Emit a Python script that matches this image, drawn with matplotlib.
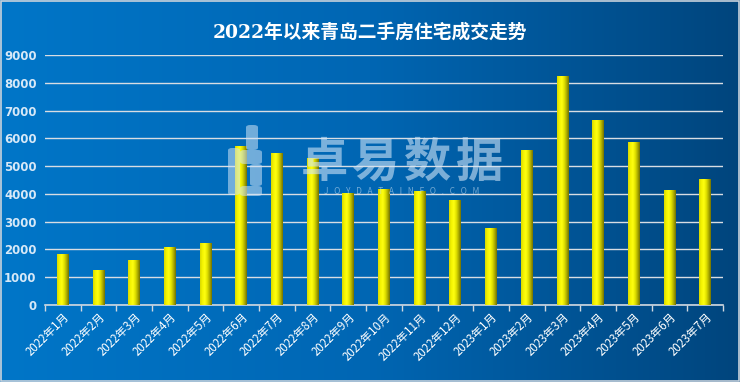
import numpy as np
import matplotlib.pyplot as plt
from matplotlib.colors import LinearSegmentedColormap
from matplotlib.patches import FancyBboxPatch

plt.rcParams['font.family'] = ['Noto Sans CJK SC', 'DejaVu Sans']

months = ["2022年1月", "2022年2月", "2022年3月", "2022年4月", "2022年5月", "2022年6月",
          "2022年7月", "2022年8月", "2022年9月", "2022年10月", "2022年11月", "2022年12月",
          "2023年1月", "2023年2月", "2023年3月", "2023年4月", "2023年5月", "2023年6月",
          "2023年7月"]
deals = [1830, 1240, 1610, 2070, 2200, 5700, 5460, 5280, 4020, 4170, 4080, 3780,
         2770, 5580, 8240, 6660, 5860, 4140, 4520]
yticks = [0, 1000, 2000, 3000, 4000, 5000, 6000, 7000, 8000, 9000]

W, H = 740, 382
fig = plt.figure(figsize=(7.4, 3.82), dpi=100)

# gradient background
bg = fig.add_axes([0, 0, 1, 1], zorder=0)
bg_cmap = LinearSegmentedColormap.from_list("bg", ["#0076c8", "#0066b3", "#00457d"])
bg.imshow(np.linspace(0, 1, 256).reshape(1, -1), aspect="auto", cmap=bg_cmap,
          extent=[0, 1, 0, 1])
bg.set_xlim(0, 1)
bg.set_ylim(0, 1)
bg.axis("off")
fig.patches.append(plt.Rectangle((0.001, 0.002), 0.997, 0.995, transform=fig.transFigure,
                                 fill=False, edgecolor="#c8d2dc", lw=1.2))

ax = fig.add_axes([45 / W, 77 / H, 678 / W, 250 / H], zorder=2)
ax.patch.set_alpha(0)

bar_cmap = LinearSegmentedColormap.from_list(
    "bar", ["#d8d800", "#f4f400", "#ffff10", "#e4e400", "#b0b000", "#727200"])
grad = np.linspace(0, 1, 64).reshape(1, -1)
x = np.arange(len(months))
w = 0.33
for xi, v in zip(x, deals):
    ax.imshow(grad, cmap=bar_cmap, aspect="auto", extent=[xi - w / 2, xi + w / 2, 0, v],
              zorder=3)

ax.set_xlim(-0.5, len(months) - 0.5)
ax.set_ylim(0, 9000)
ax.set_yticks(yticks)
ax.set_yticklabels([str(t) for t in yticks], color="#d6e8f7", fontsize=8.5,
                   fontweight="bold", family=["DejaVu Sans"])
ax.grid(axis="y", color="#d8dde3", lw=1.0, zorder=1)
ax.set_axisbelow(True)

ax.set_xticks(x)
ax.set_xticklabels(months, rotation=45, ha="right", rotation_mode="anchor",
                   color="white", fontsize=8.3)
ax.set_xticks(np.arange(len(months) + 1) - 0.5, minor=True)
ax.tick_params(axis="x", which="major", length=0, pad=4)
ax.tick_params(axis="x", which="minor", length=4, color="#d0d8e0", width=1)
ax.tick_params(axis="y", length=0, pad=6)

for s in ["top", "right", "left"]:
    ax.spines[s].set_visible(False)
ax.spines["bottom"].set_color("#d0d8e0")
ax.spines["bottom"].set_linewidth(1.2)

# watermark, drawn over the bars
wm = "#cfe4f7"
for i, ch in enumerate("卓易数据"):
    fig.text((324 + i * 52) / W, 1 - 163 / H, ch, color=wm, alpha=0.6, fontsize=34,
             fontweight="black", ha="center", va="center", zorder=5)
fig.text(402 / W, 1 - 191 / H, "J   O   Y   D   A   T   A   I   N   F   O   .   C   O   M",
         color=wm, alpha=0.55, fontsize=6, ha="center", va="center", zorder=5)
for (x0, y0, bw, bh) in [(228, 148, 12, 47), (240, 186, 22, 10), (246, 125, 12, 25),
                         (240, 150, 22, 14), (250, 164, 12, 22)]:
    fig.patches.append(FancyBboxPatch((x0 / W, 1 - (y0 + bh) / H), bw / W, bh / H,
                                      boxstyle="round,pad=0,rounding_size=0.006",
                                      transform=fig.transFigure, facecolor=wm,
                                      edgecolor="none", alpha=0.55, zorder=5))

fig.text(0.5, 0.915, "2022年以来青岛二手房住宅成交走势", color="white", fontsize=13.5,
         fontweight="bold", ha="center", va="center",
         family=["DejaVu Serif", "Noto Sans CJK SC"])

fig.savefig("out.png", dpi=100)
